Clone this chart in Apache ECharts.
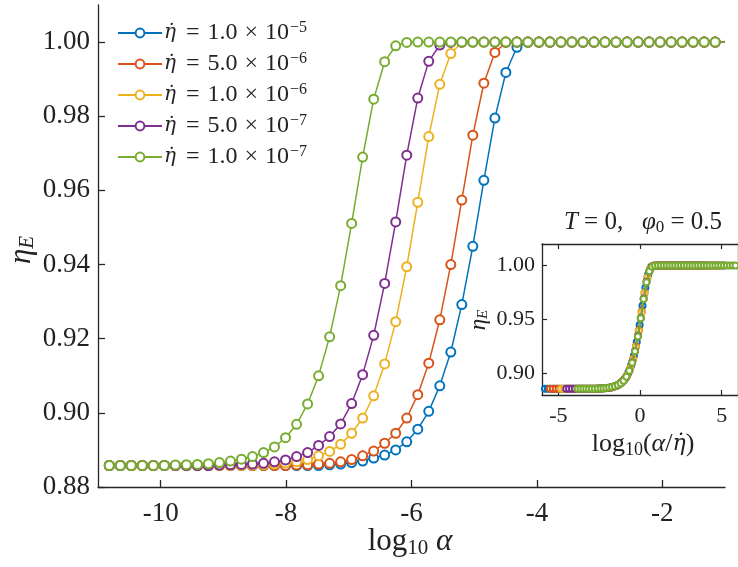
<!DOCTYPE html>
<html><head><meta charset="utf-8">
<script src="https://cdn.jsdelivr.net/npm/echarts@6/dist/echarts.min.js"></script>
<style>html,body{margin:0;padding:0;background:#fff}#c{width:738px;height:567px}</style>
</head><body><div id="c"></div>
<script>
// log10(alpha) positions of the plotted markers (shared by all series)
const logAlpha = [-10.82,-10.644,-10.469,-10.293,-10.117,-9.942,-9.766,-9.590,-9.414,-9.239,
  -9.063,-8.887,-8.712,-8.536,-8.360,-8.185,-8.009,-7.833,-7.657,-7.482,
  -7.306,-7.130,-6.955,-6.779,-6.603,-6.428,-6.252,-6.076,-5.900,-5.725,
  -5.549,-5.373,-5.198,-5.022,-4.846,-4.670,-4.495,-4.319,-4.143,-3.968,
  -3.792,-3.616,-3.441,-3.265,-3.089,-2.914,-2.738,-2.562,-2.386,-2.211,
  -2.035,-1.859,-1.684,-1.508,-1.332,-1.157];
// line extends slightly beyond the markers
const lineStartX = -10.9, lineEndX = -1.0;
const lowPlateau = 0.8858, highPlateau = 1.0;

// strain rates (eta dot)
const rateMantissa = ['1.0','5.0','1.0','5.0','1.0'];
const rateExponent = [-5,-6,-6,-7,-7];
const rateValue = [1e-5,5e-6,1e-6,5e-7,1e-7];

const etaBlue = [0.8858,0.8858,0.8858,0.8858,0.8858,0.8858,0.8858,0.8858,0.8858,0.8858,
  0.8858,0.8858,0.8858,0.8858,0.8858,0.8858,0.8858,0.8858,0.8858,0.8858,
  0.8860,0.8862,0.8866,0.8870,0.8878,0.8886,0.8900,0.8922,0.8956,0.9004,
  0.9073,0.9164,0.9292,0.9449,0.9627,0.9795,0.9918,0.9986,1.0000,1.0000,
  1.0000,1.0000,1.0000,1.0000,1.0000,1.0000,1.0000,1.0000,1.0000,1.0000,
  1.0000,1.0000,1.0000,1.0000,1.0000,1.0000];
const etaRed = [0.8858,0.8858,0.8858,0.8858,0.8858,0.8858,0.8858,0.8858,0.8858,0.8858,
  0.8858,0.8858,0.8858,0.8858,0.8858,0.8858,0.8858,0.8859,0.8860,0.8862,
  0.8864,0.8868,0.8874,0.8884,0.8897,0.8918,0.8945,0.8986,0.9049,0.9134,
  0.9251,0.9400,0.9574,0.9749,0.9889,0.9972,0.9999,1.0000,1.0000,1.0000,
  1.0000,1.0000,1.0000,1.0000,1.0000,1.0000,1.0000,1.0000,1.0000,1.0000,
  1.0000,1.0000,1.0000,1.0000,1.0000,1.0000];
const etaYellow = [0.8858,0.8858,0.8858,0.8858,0.8858,0.8858,0.8858,0.8858,0.8858,0.8858,
  0.8858,0.8858,0.8858,0.8859,0.8860,0.8862,0.8865,0.8868,0.8874,0.8884,
  0.8896,0.8915,0.8945,0.8986,0.9046,0.9132,0.9246,0.9394,0.9568,0.9745,
  0.9886,0.9969,0.9999,1.0000,1.0000,1.0000,1.0000,1.0000,1.0000,1.0000,
  1.0000,1.0000,1.0000,1.0000,1.0000,1.0000,1.0000,1.0000,1.0000,1.0000,
  1.0000,1.0000,1.0000,1.0000,1.0000,1.0000];
const etaPurple = [0.8858,0.8858,0.8858,0.8858,0.8858,0.8858,0.8858,0.8858,0.8858,0.8858,
  0.8859,0.8860,0.8861,0.8862,0.8864,0.8868,0.8873,0.8882,0.8893,0.8912,
  0.8936,0.8970,0.9025,0.9103,0.9209,0.9349,0.9515,0.9695,0.9849,0.9948,
  0.9992,0.9999,1.0000,1.0000,1.0000,1.0000,1.0000,1.0000,1.0000,1.0000,
  1.0000,1.0000,1.0000,1.0000,1.0000,1.0000,1.0000,1.0000,1.0000,1.0000,
  1.0000,1.0000,1.0000,1.0000,1.0000,1.0000];
const etaGreen = [0.8858,0.8858,0.8858,0.8858,0.8858,0.8858,0.8859,0.8860,0.8861,0.8863,
  0.8866,0.8870,0.8875,0.8882,0.8893,0.8908,0.8933,0.8969,0.9024,0.9100,
  0.9205,0.9343,0.9511,0.9690,0.9846,0.9947,0.9990,0.9999,1.0000,1.0000,
  1.0000,1.0000,1.0000,1.0000,1.0000,1.0000,1.0000,1.0000,1.0000,1.0000,
  1.0000,1.0000,1.0000,1.0000,1.0000,1.0000,1.0000,1.0000,1.0000,1.0000,
  1.0000,1.0000,1.0000,1.0000,1.0000,1.0000];
const etaSeries = [etaBlue, etaRed, etaYellow, etaPurple, etaGreen];

const colors = ['#0072BD','#D95319','#EDB120','#7E2F8E','#77AC30'];

const mainXTicks = [-10,-8,-6,-4,-2];
const mainYTicks = [0.88,0.90,0.92,0.94,0.96,0.98,1.00];
const insetXTicks = [-5,0,5];
const insetYTicks = [0.90,0.95,1.00];

const FONT = 'Liberation Serif';
const MFONT = 'DejaVu Serif';
const AX = '#262626';
const ETADOT = 'η\u0307';

const names = rateMantissa.map((m,k)=>'η̇ = ' + m + ' × 10^' + rateExponent[k]);

const series = [];
etaSeries.forEach((ys,k)=>{
  const c = colors[k];
  const data = [{value:[lineStartX, lowPlateau], symbol:'none'}]
    .concat(logAlpha.map((x,i)=>[x, ys[i]]))
    .concat([{value:[lineEndX, highPlateau], symbol:'none'}]);
  series.push({
    type:'line', name: names[k], xAxisIndex:0, yAxisIndex:0, data,
    symbol:'emptyCircle', symbolSize:9, showAllSymbol:true,
    lineStyle:{width:1.5,color:c}, itemStyle:{color:c, borderWidth:1.3},
    emphasis:{disabled:true}, animation:false, z:2+k, clip:true
  });
});
etaSeries.forEach((ys,k)=>{
  const c = colors[k];
  const shift = Math.log10(rateValue[k]);
  series.push({
    type:'line', name: 'inset' + k, xAxisIndex:1, yAxisIndex:1,
    data: logAlpha.map((x,i)=>[x - shift, ys[i]]),
    symbol:'emptyCircle', symbolSize:6, showAllSymbol:true,
    lineStyle:{width:2,color:c}, itemStyle:{color:c, borderWidth:1.6},
    emphasis:{disabled:true}, animation:false, z:20+k, clip:true
  });
});

const axisCommon = {
  axisLine:{show:true, onZero:false, lineStyle:{color:AX, width:1.3}},
  splitLine:{show:false},
};

const chart = echarts.init(document.getElementById('c'), null, {renderer:'canvas'});
chart.setOption({
  backgroundColor:'#fff',
  animation:false,
  grid:[
    {left:98, top:5, width:627, height:482},
    {left:542, top:244, width:202, height:151, show:true, backgroundColor:'#fff', borderWidth:0, z:10}
  ],
  xAxis:[
    Object.assign({}, axisCommon, {type:'value', gridIndex:0, min:-11, max:-1,
      axisTick:{show:true, inside:true, length:7, customValues:mainXTicks, lineStyle:{color:AX,width:1.3}},
      axisLabel:{customValues:mainXTicks, fontFamily:FONT, fontSize:27, color:'#222', margin:13, formatter:v=>String(v)}}),
    Object.assign({}, axisCommon, {type:'value', gridIndex:1, min:-6, max:6, z:15,
      axisTick:{show:true, inside:true, length:5, customValues:insetXTicks, lineStyle:{color:AX,width:1.2}},
      axisLabel:{customValues:insetXTicks, fontFamily:FONT, fontSize:22, color:'#222', margin:10, formatter:v=>String(v)}}),
    Object.assign({}, axisCommon, {type:'value', gridIndex:1, min:-6, max:6, position:'top', z:15,
      axisTick:{show:true, inside:true, length:5, customValues:insetXTicks, lineStyle:{color:AX,width:1.2}},
      axisLabel:{show:false}})
  ],
  yAxis:[
    Object.assign({}, axisCommon, {type:'value', gridIndex:0, min:0.88, max:1.01,
      axisTick:{show:true, inside:true, length:7, customValues:mainYTicks, lineStyle:{color:AX,width:1.3}},
      axisLabel:{customValues:mainYTicks, fontFamily:FONT, fontSize:27, color:'#222', margin:8, formatter:v=>v.toFixed(2)}}),
    Object.assign({}, axisCommon, {type:'value', gridIndex:1, min:0.88, max:1.02, z:15,
      axisTick:{show:true, inside:true, length:5, customValues:insetYTicks, lineStyle:{color:AX,width:1.2}},
      axisLabel:{customValues:insetYTicks, fontFamily:FONT, fontSize:22, color:'#222', margin:7, formatter:v=>v.toFixed(2)}}),
    Object.assign({}, axisCommon, {type:'value', gridIndex:1, min:0.88, max:1.02, position:'right', z:15,
      axisTick:{show:false}, axisLabel:{show:false}})
  ],
  legend:{
    data: names, orient:'vertical', left:117, top:20, padding:0, itemWidth:44, itemHeight:11, itemGap:5,
    selectedMode:false,
    formatter: name => {
      const k = names.indexOf(name);
      return '{i|' + ETADOT + '}{e|=}{r|' + rateMantissa[k] + '}{x|×}{r|10}{s|−' + Math.abs(rateExponent[k]) + '}';
    },
    textStyle:{fontFamily:FONT, fontSize:24, color:'#222', lineHeight:26, padding:[0,0,0,-3],
      rich:{
        i:{fontFamily:MFONT, fontStyle:'italic', fontSize:20, color:'#222', lineHeight:26},
        e:{fontFamily:FONT, fontSize:24, color:'#222', lineHeight:26, padding:[0,8,0,10]},
        r:{fontFamily:FONT, fontSize:24, color:'#222', lineHeight:26},
        x:{fontFamily:FONT, fontSize:24, color:'#222', lineHeight:26, padding:[0,7,0,7]},
        s:{fontFamily:FONT, fontSize:16, color:'#222', lineHeight:16, verticalAlign:'top', padding:[0,0,0,1]}
      }}
  },
  graphic:[
    {type:'text', x:410, y:542, style:{text:'{r|log}{sb|10}{r| }{i|α}', align:'center', verticalAlign:'middle',
      rich:{r:{fontFamily:FONT,fontSize:31,fill:'#222',lineHeight:34}, sb:{fontFamily:FONT,fontSize:21,fill:'#222',lineHeight:21,verticalAlign:'bottom'},
            i:{fontFamily:FONT,fontStyle:'italic',fontSize:31,fill:'#222',lineHeight:34}}}},
    {type:'text', x:22, y:250, rotation:Math.PI/2, style:{text:'{i|η}{sb|E}', align:'center', verticalAlign:'middle',
      rich:{i:{fontFamily:FONT,fontStyle:'italic',fontSize:31,fill:'#222',lineHeight:32}, sb:{fontFamily:FONT,fontStyle:'italic',fontSize:21,fill:'#222',lineHeight:20,verticalAlign:'bottom'}}}},
    {type:'text', x:643, y:222, z:30, style:{text:'{i|T}{r| = 0,   }{i|φ}{sb|0}{r| = 0.5}', align:'center', verticalAlign:'middle',
      rich:{r:{fontFamily:FONT,fontSize:25,fill:'#222',lineHeight:28}, i:{fontFamily:FONT,fontStyle:'italic',fontSize:25,fill:'#222',lineHeight:28},
            sb:{fontFamily:FONT,fontSize:17,fill:'#222',lineHeight:16,verticalAlign:'bottom'}}}},
    {type:'text', x:643, y:444, z:30, style:{text:'{r|log}{sb|10}{r|(}{i|α}{r|/}{m|' + ETADOT + '}{r|)}', align:'center', verticalAlign:'middle',
      rich:{r:{fontFamily:FONT,fontSize:26,fill:'#222',lineHeight:30}, i:{fontFamily:FONT,fontStyle:'italic',fontSize:26,fill:'#222',lineHeight:30},
            m:{fontFamily:MFONT,fontStyle:'italic',fontSize:22,fill:'#222',lineHeight:30},
            sb:{fontFamily:FONT,fontSize:18,fill:'#222',lineHeight:17,verticalAlign:'bottom'}}}},
    {type:'text', x:479, y:320, z:30, rotation:Math.PI/2, style:{text:'{i|η}{sb|E}', align:'center', verticalAlign:'middle',
      rich:{i:{fontFamily:FONT,fontStyle:'italic',fontSize:23,fill:'#222',lineHeight:24}, sb:{fontFamily:FONT,fontStyle:'italic',fontSize:15,fill:'#222',lineHeight:15,verticalAlign:'bottom'}}}}
  ],
  series
});
</script></body></html>
